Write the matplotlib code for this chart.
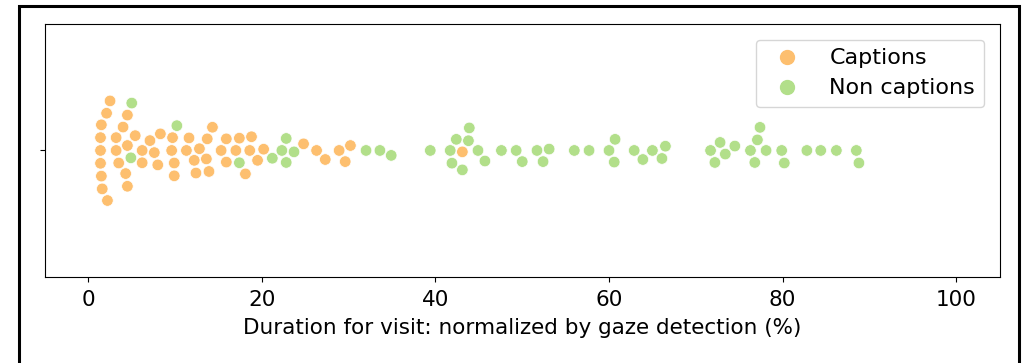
#==================================================
#Importing libraries
#==================================================
import pandas as pd
import numpy as np
import matplotlib.pyplot as plt
import seaborn as sns
from matplotlib.lines import Line2D
from matplotlib.patches import Rectangle

#==================================================
#Data
#==================================================
captions = [2.2, 1.6, 1.5, 1.4, 1.4, 1.4, 1.5, 2.1, 2.5,
            4.5, 4.0, 3.2, 3.2, 3.5, 4.3, 4.5, 4.5,
            5.4, 6.2, 6.2, 7.1, 7.6, 8.0, 8.3,
            9.9, 9.9, 9.6, 9.7,
            12.4, 13.9, 12.2, 13.6, 11.3, 12.8, 14.3, 11.6, 13.7,
            15.3, 15.9, 15.9, 17.0, 17.4, 18.1, 18.8, 18.6, 19.5, 20.2,
            24.8, 26.3, 27.3, 28.9, 29.6, 30.2,
            43.1]
non_captions = [4.9, 5.0, 10.2, 17.4,
                21.2, 22.3, 22.8, 23.7, 22.8, 32.0, 33.6, 34.9,
                39.4, 41.9, 43.1, 41.7, 44.9, 42.4, 43.8, 45.7, 43.9,
                47.6, 49.3, 50.0, 51.7, 53.1, 52.4,
                56.0, 57.7, 60.7, 60.0, 60.6, 62.9, 63.9, 65.0, 66.1, 66.5,
                71.7, 72.8, 72.2, 73.4, 74.5, 77.4, 77.1, 76.3, 76.8, 78.1,
                80.2, 79.9, 82.8, 84.4, 86.2, 88.5, 88.8]
labels = ["Captions", "Non captions"]
colors = ["#fdbf6f", "#b2df8a"]

df = pd.DataFrame({
    "duration": captions + non_captions,
    "kind": [labels[0]] * len(captions) + [labels[1]] * len(non_captions),
    "row": [""] * (len(captions) + len(non_captions)),
})

#==================================================
#Swarm plot
#==================================================
fig = plt.figure(figsize=(10.22, 3.63), dpi=100)
ax = fig.add_axes([0.044, 0.237, 0.934, 0.697])

sns.swarmplot(data=df, x="duration", y="row", hue="kind", palette=dict(zip(labels, colors)),
              size=8.3, linewidth=0.5, edgecolor="white", orient="h", legend=False, ax=ax)

ax.set_xlim(-5, 105)
ax.set_xticks([0, 20, 40, 60, 80, 100])
ax.tick_params(axis="x", labelsize=15.5, pad=6)
ax.set_xlabel("Duration for visit: normalized by gaze detection (%)", fontsize=15.5, labelpad=6)
ax.set_ylabel("")

handles = [Line2D([], [], marker="o", linestyle="", markersize=10, color=c) for c in colors]
ax.legend(handles, labels, loc="upper right", fontsize=16, handletextpad=0.9,
          borderaxespad=0.7, labelspacing=0.45)

# black frame of the screenshot
fig.patches.append(Rectangle((0.019, -0.05), 0.978, 1.034, transform=fig.transFigure,
                             fill=False, edgecolor="black", linewidth=2.2))

plt.savefig("out.png", dpi=100)
